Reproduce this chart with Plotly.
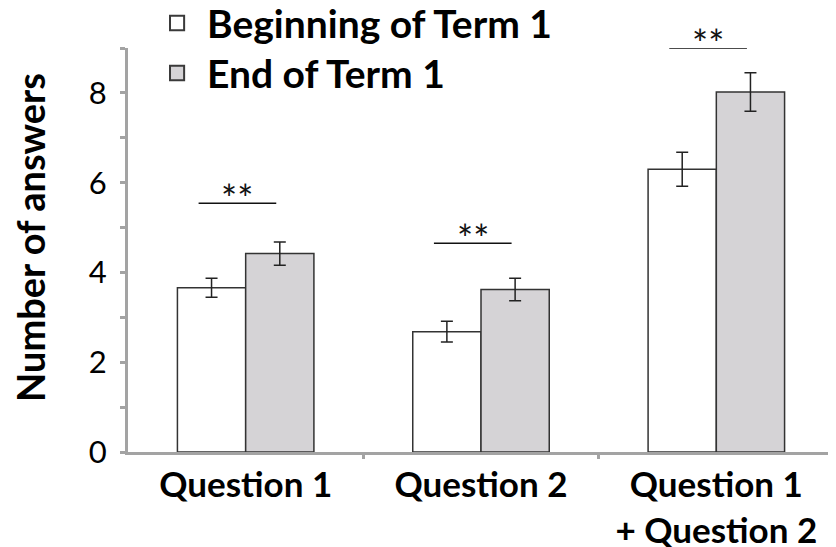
import plotly.graph_objects as go

categories = ["Question 1", "Question 2", "Question 1<br>+ Question 2"]
series_names = ["Beginning of Term 1", "End of Term 1"]
begin_vals = [3.66, 2.68, 6.30]
begin_err = [0.21, 0.23, 0.38]
end_vals = [4.42, 3.62, 8.02]
end_err = [0.26, 0.25, 0.43]
sig_labels = ["**", "**", "**"]
sig_y = [5.54, 4.65, 9.0]
y_tick_vals = [0, 2, 4, 6, 8]

FONT = "Lato"
FILLS = ["white", "#d5d3d6"]
EDGE = "#333333"
x = list(range(len(categories)))

fig = go.Figure()
for name, vals, errs, fill in zip(series_names, [begin_vals, end_vals], [begin_err, end_err], FILLS):
    fig.add_bar(
        x=x, y=vals, name=name, showlegend=False,
        marker=dict(color=fill, line=dict(color=EDGE, width=1.5)),
        error_y=dict(type="data", array=errs, color="#222222", thickness=1.5, width=6),
    )

for i, (lab, yv) in enumerate(zip(sig_labels, sig_y)):
    fig.add_scatter(
        x=[i - 0.2, i + 0.13], y=[yv, yv], mode="lines",
        line=dict(color="#111111", width=1.5), showlegend=False,
        cliponaxis=False, hoverinfo="skip",
    )
    fig.add_annotation(
        x=i - 0.035, y=yv, text=lab, showarrow=False, yanchor="bottom",
        yshift=-20, font=dict(family=FONT, size=38, color="#111111"),
    )

fig.add_annotation(
    x=-0.139, y=0.532, xref="paper", yref="paper", text="Number of answers",
    textangle=-90, showarrow=False, xanchor="center", yanchor="middle",
    font=dict(family=FONT, size=38, color="black", weight="bold"),
)

# manual legend (square swatch + bold label)
legend_rows_y = [1.0619, 0.9381]
for name, fill, ly in zip(series_names, FILLS, legend_rows_y):
    fig.add_shape(
        type="rect", xref="paper", yref="paper",
        x0=0.0595, x1=0.0795, y0=ly - 0.018, y1=ly + 0.018,
        fillcolor=fill, line=dict(color="#3a3a3a", width=2),
    )
    fig.add_annotation(
        x=0.1091, y=ly, xref="paper", yref="paper", text=name, showarrow=False,
        xanchor="left", yanchor="middle",
        font=dict(family=FONT, size=39, color="black", weight="bold"),
    )

fig.update_layout(
    width=828, height=539,
    margin=dict(l=120, r=2, t=40, b=95, autoexpand=False),
    paper_bgcolor="white", plot_bgcolor="white",
    barmode="group", bargap=0.42, bargroupgap=0,
    font=dict(family=FONT, color="black"),
    showlegend=False,
)
fig.update_xaxes(
    range=[-0.5, 2.5], tickvals=x, ticktext=categories, ticks="",
    showline=True, linecolor="#a3a3a3", linewidth=3, showgrid=False, zeroline=False,
    tickfont=dict(family=FONT, size=35, color="black", weight="bold"),
    minor=dict(tickvals=[0.5, 1.5, 2.5], ticks="outside", ticklen=4, tickwidth=3, tickcolor="#a3a3a3"),
)
fig.update_yaxes(
    range=[0, 9], tickvals=y_tick_vals, ticks="outside", ticklen=5, tickwidth=3, tickcolor="#a3a3a3",
    showline=True, linecolor="#a3a3a3", linewidth=3, showgrid=False, zeroline=False,
    tickfont=dict(family=FONT, size=31, color="black"), ticklabelstandoff=7,
    minor=dict(dtick=1, ticks="outside", ticklen=5, tickwidth=3, tickcolor="#a3a3a3", showgrid=False),
)

fig.write_html("out.html")
